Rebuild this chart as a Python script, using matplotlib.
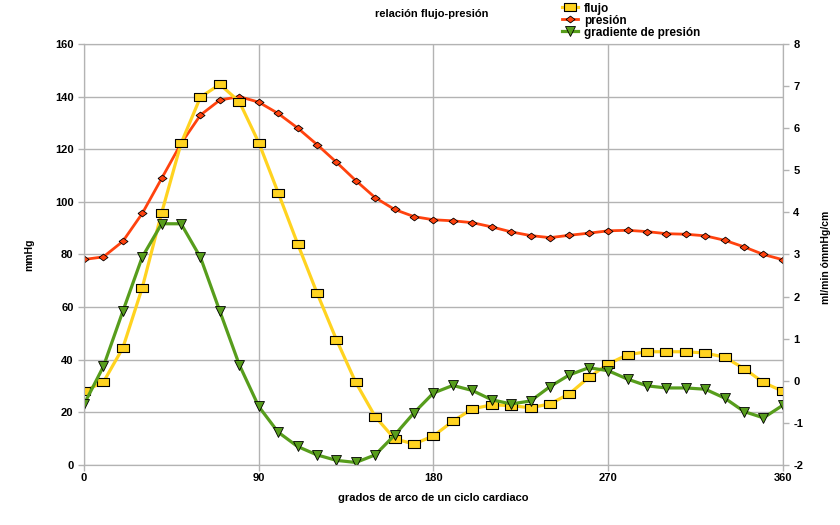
import numpy as np
import matplotlib
matplotlib.use("Agg")
import matplotlib.pyplot as plt

plt.rcParams["font.family"] = ["Liberation Sans", "DejaVu Sans"]
plt.rcParams["font.weight"] = "bold"
plt.rcParams["axes.unicode_minus"] = False

# ============ Data ============
grados = list(range(0, 361, 10))
# presión (mmHg, eje izquierdo)
presion = [78.1, 79.1, 85.0, 95.6, 108.9, 122.2, 133.0, 138.7, 140.0, 137.9,
           133.6, 128.1, 121.8, 115.1, 108.1, 101.6, 97.1, 94.4, 93.2, 92.8,
           92.1, 90.5, 88.6, 87.2, 86.4, 87.3, 88.1, 89.0, 89.2, 88.7,
           87.9, 87.7, 87.1, 85.4, 82.9, 80.0, 78.0]
# flujo (ml/min, eje derecho)
flujo = [-0.25, -0.03, 0.78, 2.21, 3.99, 5.64, 6.74, 7.04, 6.63, 5.66,
         4.47, 3.26, 2.09, 0.98, -0.04, -0.85, -1.38, -1.50, -1.31, -0.96,
         -0.67, -0.57, -0.59, -0.64, -0.55, -0.31, 0.08, 0.40, 0.62, 0.69,
         0.69, 0.69, 0.66, 0.56, 0.29, -0.04, -0.25]
# gradiente de presión (mmHg/cm, eje derecho)
gradiente = [-0.56, 0.34, 1.65, 2.94, 3.73, 3.73, 2.93, 1.65, 0.38, -0.61,
             -1.22, -1.56, -1.76, -1.89, -1.94, -1.76, -1.29, -0.76, -0.29, -0.11,
             -0.23, -0.45, -0.55, -0.48, -0.14, 0.14, 0.31, 0.24, 0.04, -0.12,
             -0.17, -0.17, -0.20, -0.41, -0.73, -0.88, -0.58]

C_FLUJO = "#ffd320"
C_PRES = "#ff420e"
C_GRAD = "#579d1c"
GRID = "#b3b3b3"

rect = [(-1.4, -1), (1.4, -1), (1.4, 1), (-1.4, 1), (-1.4, -1)]
diam = [(-1, 0), (0, 0.75), (1, 0), (0, -0.75), (-1, 0)]

fig = plt.figure(figsize=(8.4, 5.25), dpi=100)
ax = fig.add_axes([0.1, 0.1143, 0.832, 0.8019])
ax2 = ax.twinx()

lp, = ax.plot(grados, presion, color=C_PRES, lw=2.0, marker=diam, ms=6.5,
              mfc=C_PRES, mec="black", mew=0.6, label="presión")
lf, = ax2.plot(grados, flujo, color=C_FLUJO, lw=2.3, marker=rect, ms=8,
               mfc=C_FLUJO, mec="black", mew=0.8, label="flujo")
lg, = ax2.plot(grados, gradiente, color=C_GRAD, lw=2.3, marker="v", ms=7,
               mfc=C_GRAD, mec="black", mew=0.6, label="gradiente de presión")

ax.set_xlim(0, 360)
ax.set_ylim(0, 160)
ax2.set_ylim(-2, 8)
ax.set_xticks([0, 90, 180, 270, 360])
ax.set_yticks(range(0, 161, 20))
ax2.set_yticks(range(-2, 9))
ax.grid(True, color=GRID, lw=1)
ax.set_axisbelow(True)
for a in (ax, ax2):
    for s in a.spines.values():
        s.set_color(GRID)
    a.tick_params(colors=GRID, labelcolor="black", labelsize=8, length=4, width=1)
ax.tick_params(axis="x", pad=2)

ax.set_xlabel("grados de arco de un ciclo cardiaco", fontsize=8, fontweight="bold", labelpad=7)
ax.set_ylabel("mmHg", fontsize=7.5, fontweight="bold", labelpad=15)
fig.text(0.983, 0.51, "ml/min ómmHg/cm", rotation=90, fontsize=7.5, fontweight="bold",
         ha="center", va="center")

fig.text(0.514, 0.973, "relación flujo-presión", fontsize=8, fontweight="bold",
         ha="center", va="center")
fig.legend(handles=[lf, lp, lg], loc="upper left", bbox_to_anchor=(0.663, 1.004),
           frameon=False, fontsize=8.5, handlelength=1.4, handletextpad=0.5,
           labelspacing=0.0, borderaxespad=0)

fig.savefig("out.png", dpi=100)
